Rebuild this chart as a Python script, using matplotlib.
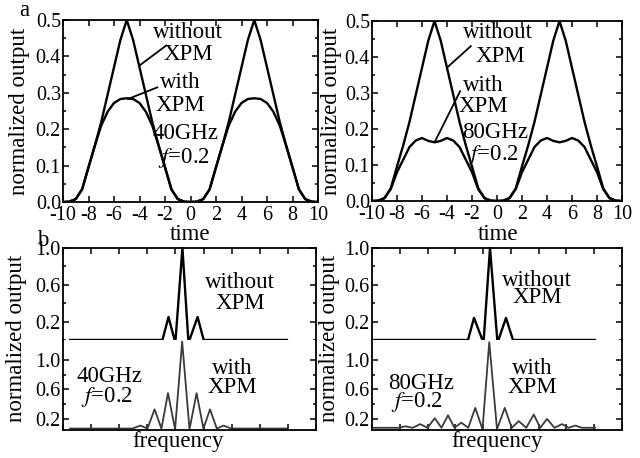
import numpy as np
import matplotlib
matplotlib.use("Agg")
import matplotlib.pyplot as plt
from matplotlib.ticker import MultipleLocator, FixedLocator, FormatStrFormatter, NullFormatter

plt.rcParams['font.family'] = ['Liberation Serif', 'DejaVu Serif']
plt.rcParams['mathtext.fontset'] = 'stix'
plt.rcParams['axes.unicode_minus'] = False

# ---- time domain (top row), sampled every 0.5 from -10 to 10 ----
t = np.arange(-10, 10.01, 0.5)
without_xpm = [0, 0.001, 0.008, 0.035, 0.096, 0.155, 0.22, 0.295, 0.37, 0.445,
               0.5, 0.445, 0.37, 0.295, 0.22, 0.155, 0.096, 0.035, 0.008, 0.001,
               0, 0.001, 0.008, 0.035, 0.096, 0.155, 0.22, 0.295, 0.37, 0.445,
               0.5, 0.445, 0.37, 0.295, 0.22, 0.155, 0.096, 0.035, 0.008, 0.001, 0]
with_xpm_40 = [0, 0.001, 0.008, 0.035, 0.095, 0.155, 0.21, 0.248, 0.272, 0.283,
               0.285, 0.283, 0.272, 0.248, 0.21, 0.155, 0.095, 0.035, 0.008, 0.001,
               0, 0.001, 0.008, 0.035, 0.095, 0.155, 0.21, 0.248, 0.272, 0.283,
               0.285, 0.283, 0.272, 0.248, 0.21, 0.155, 0.095, 0.035, 0.008, 0.001, 0]
with_xpm_80 = [0, 0.001, 0.008, 0.033, 0.08, 0.115, 0.15, 0.168, 0.175, 0.167,
               0.163, 0.167, 0.175, 0.168, 0.15, 0.115, 0.08, 0.033, 0.008, 0.001,
               0, 0.001, 0.008, 0.033, 0.08, 0.115, 0.15, 0.168, 0.175, 0.167,
               0.163, 0.167, 0.175, 0.168, 0.15, 0.115, 0.08, 0.033, 0.008, 0.001, 0]

# ---- spectra (bottom row), frequency in arbitrary units 0..100 ----
f_wo_40 = [2.8, 39.3, 41.7, 44.4, 47.2, 49.6, 53.2, 55.6, 88.5]
s_wo_40 = [0, 0, 0.25, -0.03, 1.0, -0.03, 0.25, 0, 0]
f_w_40 = [2.8, 27.5, 30.6, 33.4, 36.2, 38.9, 41.5, 44.3, 47.1, 50.0, 52.8, 55.5,
          58.1, 60.8, 63.5, 66.5, 88.5]
s_w_40 = [0.07, 0.07, 0.11, 0.07, 0.33, 0.07, 0.55, 0.06, 1.25, 0.06, 0.55, 0.07,
          0.33, 0.07, 0.11, 0.07, 0.07]

f_wo_80 = [0.4, 38.4, 40.8, 44.6, 47.2, 50.2, 53.6, 56.4, 89.2]
s_wo_80 = [0, 0, 0.24, -0.03, 1.0, -0.03, 0.24, 0, 0]
f_w_80 = [0.4, 10.5, 13.3, 16.3, 19.3, 22.2, 25.1, 27.8, 30.4, 33.0, 35.7, 38.5,
          41.3, 44.2, 46.9, 50.0, 53.1, 55.9, 58.7, 61.7, 64.7, 67.3, 70.0, 73.0,
          76.0, 78.6, 81.3, 84.0, 89.2]
s_w_80 = [0.08, 0.08, 0.10, 0.08, 0.13, 0.08, 0.21, 0.08, 0.25, 0.08, 0.15, 0.08,
          0.35, 0.06, 1.24, 0.06, 0.35, 0.08, 0.17, 0.08, 0.26, 0.08, 0.20, 0.08,
          0.13, 0.08, 0.11, 0.08, 0.08]

W, H = 640, 458
fig = plt.figure(figsize=(W / 100, H / 100), dpi=100)


def px_axes(l, t_, r, b):
    return fig.add_axes([l / W, 1 - b / H, (r - l) / W, (b - t_) / H])


def style(ax):
    for s in ax.spines.values():
        s.set_linewidth(1.3)
    ax.tick_params(which='both', direction='in', top=True, right=True,
                   width=1.1, labelsize=14.5, pad=1.5)
    ax.tick_params(axis='x', pad=3)
    ax.tick_params(which='major', length=4)
    ax.tick_params(which='minor', length=2.5)


TS = 16.5
lw = 1.7

# --- top row ---
for (l, tp, r, b), wx, ghz, pos in [
        ((63, 20, 318, 202), with_xpm_40, '40GHz',
         dict(wo=(-0.2, 0.467), xp=(-0.2, 0.405), wl=((-4.0, 0.375), (-1.9, 0.43)),
              wi=(-0.8, 0.327), xp2=(-0.8, 0.265), wil=((-4.9, 0.283), (-2.6, 0.315)),
              g=(-0.4, 0.187), f=(-0.5, 0.122))),
        ((372, 21, 622, 201), with_xpm_80, '80GHz',
         dict(wo=(0.1, 0.467), xp=(0.25, 0.4), wl=((-3.95, 0.372), (-2.1, 0.43)),
              wi=(-1.1, 0.322), xp2=(-1.1, 0.262), wil=((-4.95, 0.166), (-2.95, 0.305)),
              g=(-0.15, 0.19), f=(-0.35, 0.127)))]:
    ax = px_axes(l, tp, r, b)
    style(ax)
    ax.plot(t, without_xpm, color='black', lw=lw)
    ax.plot(t, wx, color='black', lw=lw)
    ax.set_xlim(-10, 10)
    ax.set_ylim(0, 0.5)
    ax.xaxis.set_major_locator(MultipleLocator(2))
    ax.yaxis.set_major_locator(MultipleLocator(0.1))
    ax.yaxis.set_minor_locator(MultipleLocator(0.05))
    ax.yaxis.set_major_formatter(FormatStrFormatter('%.1f'))
    ax.xaxis.set_major_formatter(FormatStrFormatter('%d'))
    ax.text(*pos['wo'], 'without', fontsize=TS, ha='center', va='center')
    ax.text(*pos['xp'], 'XPM', fontsize=TS, ha='center', va='center')
    ax.plot(*zip(*pos['wl']), color='black', lw=1.3)
    ax.text(*pos['wi'], 'with', fontsize=TS, ha='center', va='center')
    ax.text(*pos['xp2'], 'XPM', fontsize=TS, ha='center', va='center')
    ax.plot(*zip(*pos['wil']), color='black', lw=1.3)
    ax.text(*pos['g'], ghz, fontsize=TS, ha='center', va='center')
    ax.text(*pos['f'], '$f$=0.2', fontsize=TS, ha='center', va='center')

# --- bottom row ---
for (l, r), fwo, swo, fw, sw, ghz, pos in [
        ((63, 316), f_wo_40, s_wo_40, f_w_40, s_w_40, '40GHz',
         dict(wo=(70, 0.62), xp=(70, 0.40), wi=(67, 0.89), xp2=(67, 0.62),
              g=(18.5, 0.77), f=(17.5, 0.50))),
        ((372, 622), f_wo_80, s_wo_80, f_w_80, s_w_80, '80GHz',
         dict(wo=(66, 0.65), xp=(66, 0.46), wi=(64, 0.89), xp2=(64, 0.62),
              g=(19.5, 0.68), f=(18, 0.43)))]:
    up = px_axes(l, 248, r, 340)
    lo = px_axes(l, 340, r, 430)
    for ax in (up, lo):
        style(ax)
        ax.set_xlim(0, 100)
        ax.xaxis.set_major_locator(FixedLocator(np.linspace(0, 100, 10)))
        ax.xaxis.set_major_formatter(NullFormatter())
        ax.yaxis.set_major_locator(FixedLocator([0.2, 0.6, 1.0]))
        ax.yaxis.set_major_formatter(FormatStrFormatter('%.1f'))
    up.spines['bottom'].set_visible(False)
    lo.spines['top'].set_visible(False)
    up.tick_params(which='both', bottom=False)
    lo.tick_params(which='both', top=False)
    up.set_ylim(0, 1.0)
    up.yaxis.set_minor_locator(FixedLocator([0.0, 0.4, 0.8]))
    lo.set_ylim(0.05, 1.27)
    lo.yaxis.set_minor_locator(FixedLocator([0.4, 0.8]))
    up.plot(fwo, swo, color='black', lw=lw, clip_on=False)
    lo.plot(fw, sw, color='#3a3a3a', lw=1.3, clip_on=False)
    up.text(*pos['wo'], 'without', fontsize=TS, ha='center', va='center')
    up.text(*pos['xp'], 'XPM', fontsize=TS, ha='center', va='center')
    lo.text(*pos['wi'], 'with', fontsize=TS, ha='center', va='center')
    lo.text(*pos['xp2'], 'XPM', fontsize=TS, ha='center', va='center')
    lo.text(*pos['g'], ghz, fontsize=TS, ha='center', va='center')
    lo.text(*pos['f'], '$f$=0.2', fontsize=TS, ha='center', va='center')

# axis labels and panel letters
for x, y in [(20, 111), (332, 111), (17, 338), (330, 338)]:
    fig.text(x / W, 1 - y / H, 'normalized output', rotation=90, fontsize=TS,
             ha='center', va='center')
for x in (190, 498):
    fig.text(x / W, 1 - 235 / H, 'time', fontsize=TS, ha='center', va='center')
for x in (178, 497):
    fig.text(x / W, 1 - 441 / H, 'frequency', fontsize=TS, ha='center', va='center')
fig.text(24 / W, 1 - 11 / H, 'a', fontsize=TS, ha='center', va='center')
fig.text(43 / W, 1 - 240 / H, 'b', fontsize=TS, ha='center', va='center')

fig.savefig('out.png', dpi=100)
